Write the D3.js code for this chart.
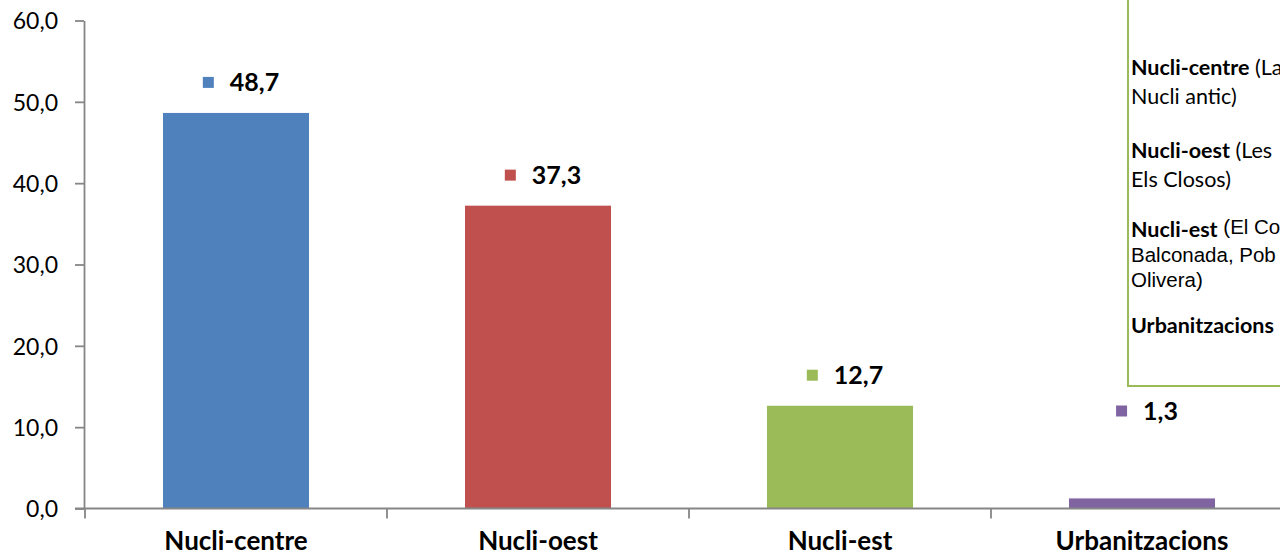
<!DOCTYPE html>
<html>
<head>
<meta charset="utf-8">
<script src="https://cdn.jsdelivr.net/npm/d3@7"></script>
<style>
  body { margin: 0; background: #fff; overflow: hidden; }
  svg text { font-family: Lato, "Open Sans", sans-serif; fill: #000; }
</style>
</head>
<body>
<svg id="chart" width="1280" height="557"></svg>
<script>
// data
var categories = ["Nucli-centre", "Nucli-oest", "Nucli-est", "Urbanitzacions"];
var values = [48.7, 37.3, 12.7, 1.3];
var colors = ["#4F81BD", "#C0504D", "#9BBB59", "#8064A2"];
var yTicks = [0, 10, 20, 30, 40, 50, 60];

// legend box text (cut off at the right edge in the original)
var legendNames = ["Nucli-centre", "Nucli-oest", "Nucli-est", "Urbanitzacions"];
var legendDetails = [
  [" (La", "Nucli antic)"],
  [" (Les", "Els Closos)"],
  ["  (El Co", "Balconada, Pob", "Olivera)"],
  []
];

var svg = d3.select("#chart");
var axisColor = "#868686";
var fmt = function(v) { return d3.format(".1f")(v).replace(".", ","); };

var x = d3.scaleBand()
    .domain(categories)
    .range([85, 1293])
    .paddingInner(0.513)
    .paddingOuter(0.2565);

var y = d3.scaleLinear()
    .domain([0, 60])
    .range([508.5, 20.5]);

// bars
svg.selectAll("rect.bar")
    .data(values)
  .enter().append("rect")
    .attr("class", "bar")
    .attr("x", function(d, i) { return x(categories[i]); })
    .attr("y", function(d) { return y(d); })
    .attr("width", x.bandwidth())
    .attr("height", function(d) { return y(0) - y(d); })
    .attr("fill", function(d, i) { return colors[i]; })
    .attr("stroke", "#fff")
    .attr("stroke-width", 1);

// y axis
var yAxis = svg.append("g")
    .attr("transform", "translate(84,0)")
    .call(d3.axisLeft(y).tickValues(yTicks).tickFormat(fmt).tickSize(9).tickSizeOuter(0));
yAxis.select(".domain").attr("stroke", axisColor).attr("stroke-width", 1.8);
yAxis.selectAll(".tick line").attr("stroke", axisColor).attr("stroke-width", 1.8);
yAxis.selectAll(".tick text")
    .attr("x", -26)
    .attr("dy", "0.36em")
    .style("font-size", "23px")
    .attr("fill", "#000");

// x axis line and category boundary ticks
svg.append("line")
    .attr("x1", 75).attr("x2", 1280)
    .attr("y1", y(0)).attr("y2", y(0))
    .attr("stroke", axisColor).attr("stroke-width", 2);

var bounds = categories.map(function(c) { return x(c) - x.step() * x.paddingOuter(); });
svg.selectAll("line.cat")
    .data(bounds)
  .enter().append("line")
    .attr("class", "cat")
    .attr("x1", function(d) { return d; }).attr("x2", function(d) { return d; })
    .attr("y1", y(0)).attr("y2", y(0) + 10)
    .attr("stroke", axisColor).attr("stroke-width", 1.8);

svg.selectAll("text.cat")
    .data(categories)
  .enter().append("text")
    .attr("class", "cat")
    .attr("x", function(d) { return x(d) + x.bandwidth() / 2; })
    .attr("y", 550)
    .attr("text-anchor", "middle")
    .style("font-size", "26px")
    .style("font-weight", "bold")
    .text(function(d) { return d; });

// value labels: marker square + bold value, kept clear of the axis for tiny bars
var labels = svg.selectAll("g.lab")
    .data(values)
  .enter().append("g")
    .attr("class", "lab");

labels.each(function(d, i) {
  var g = d3.select(this);
  var cy = Math.min(y(d), y(8.3)) - 30;
  var t = g.append("text")
      .attr("y", cy + 9)
      .style("font-size", "25px")
      .style("font-weight", "bold")
      .text(fmt(d));
  var tw = t.node().getComputedTextLength();
  var total = 11 + 16 + tw;
  var left = x(categories[i]) + x.bandwidth() / 2 + 5 - total / 2;
  g.append("rect")
      .attr("x", left).attr("y", cy - 5.5)
      .attr("width", 11).attr("height", 11)
      .attr("fill", colors[i]);
  t.attr("x", left + 27);
});

// legend box
var lg = svg.append("g");
lg.append("rect")
    .attr("x", 1128).attr("y", -10)
    .attr("width", 200).attr("height", 396)
    .attr("fill", "#fff")
    .attr("stroke", "#9BBB59")
    .attr("stroke-width", 2);

var arialFont = "'Liberation Sans', Arial, sans-serif";
var entryY = [75, 158, 237, 333];
var lineGap = [29, 29, 25, 0];
legendNames.forEach(function(name, i) {
  var det = legendDetails[i];
  var arial = i === 2;
  var first = lg.append("text")
      .attr("x", 1131).attr("y", entryY[i])
      .style("font-size", "21.5px");
  first.append("tspan").style("font-weight", "bold").text(name);
  if (det.length) {
    first.append("tspan")
        .style("font-family", arial ? arialFont : null)
        .attr("dy", arial ? -3 : 0)
        .style("font-size", arial ? "20.5px" : null)
        .text(det[0]);
    det.slice(1).forEach(function(line, j) {
      lg.append("text")
          .attr("x", 1131).attr("y", entryY[i] + lineGap[i] * (j + 1))
          .style("font-size", arial ? "20.5px" : "21.5px")
          .style("font-family", arial ? arialFont : null)
          .text(line);
    });
  }
});
</script>
</body>
</html>
